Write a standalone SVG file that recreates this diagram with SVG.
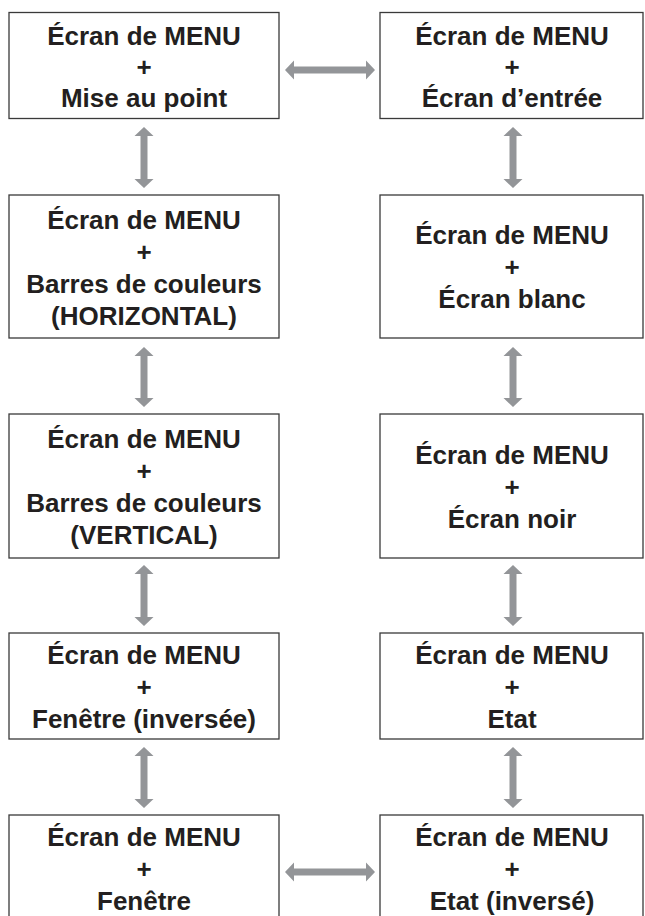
<svg xmlns="http://www.w3.org/2000/svg" width="645" height="916" viewBox="0 0 645 916">
<style>
.box{fill:#fff;stroke:#3a3a3a;stroke-width:1.3}
.t{font-family:"Liberation Sans",Arial,Helvetica,sans-serif;font-weight:bold;font-size:26px;fill:#231f20;text-anchor:middle}
.arr{fill:#939598}
</style>
<rect width="645" height="916" fill="#fff"/>
<g id="connectors">
<path class="arr" d="M285,70 L294,60.5 L294,66.5 L366,66.5 L366,60.5 L375,70 L366,79.5 L366,73.5 L294,73.5 L294,79.5 Z"/>
<path class="arr" d="M285,872 L294,862.5 L294,868.5 L366,868.5 L366,862.5 L375,872 L366,881.5 L366,875.5 L294,875.5 L294,881.5 Z"/>
<path class="arr" d="M144,127 L153.5,136 L147.5,136 L147.5,179 L153.5,179 L144,188 L134.5,179 L140.5,179 L140.5,136 L134.5,136 Z"/>
<path class="arr" d="M144,347 L153.5,356 L147.5,356 L147.5,398 L153.5,398 L144,407 L134.5,398 L140.5,398 L140.5,356 L134.5,356 Z"/>
<path class="arr" d="M144,565 L153.5,574 L147.5,574 L147.5,617 L153.5,617 L144,626 L134.5,617 L140.5,617 L140.5,574 L134.5,574 Z"/>
<path class="arr" d="M144,747 L153.5,756 L147.5,756 L147.5,799 L153.5,799 L144,808 L134.5,799 L140.5,799 L140.5,756 L134.5,756 Z"/>
<path class="arr" d="M513,127 L522.5,136 L516.5,136 L516.5,179 L522.5,179 L513,188 L503.5,179 L509.5,179 L509.5,136 L503.5,136 Z"/>
<path class="arr" d="M513,347 L522.5,356 L516.5,356 L516.5,398 L522.5,398 L513,407 L503.5,398 L509.5,398 L509.5,356 L503.5,356 Z"/>
<path class="arr" d="M513,565 L522.5,574 L516.5,574 L516.5,617 L522.5,617 L513,626 L503.5,617 L509.5,617 L509.5,574 L503.5,574 Z"/>
<path class="arr" d="M513,747 L522.5,756 L516.5,756 L516.5,799 L522.5,799 L513,808 L503.5,799 L509.5,799 L509.5,756 L503.5,756 Z"/>
</g>
<g id="n-mise-au-point">
<rect class="box" x="9" y="12.5" width="270" height="106"/>
<text class="t" x="144" y="44.5">Écran de MENU</text>
<text class="t" x="144" y="76">+</text>
<text class="t" x="144" y="107">Mise au point</text>
</g>
<g id="n-barres-horizontal">
<rect class="box" x="9" y="195" width="270" height="143"/>
<text class="t" x="144" y="229">Écran de MENU</text>
<text class="t" x="144" y="261">+</text>
<text class="t" x="144" y="293">Barres de couleurs</text>
<text class="t" x="144" y="325">(HORIZONTAL)</text>
</g>
<g id="n-barres-vertical">
<rect class="box" x="9" y="414" width="270" height="144"/>
<text class="t" x="144" y="448">Écran de MENU</text>
<text class="t" x="144" y="480">+</text>
<text class="t" x="144" y="512">Barres de couleurs</text>
<text class="t" x="144" y="544">(VERTICAL)</text>
</g>
<g id="n-fenetre-inversee">
<rect class="box" x="9" y="633" width="270" height="106"/>
<text class="t" x="144" y="664">Écran de MENU</text>
<text class="t" x="144" y="696">+</text>
<text class="t" x="144" y="728">Fenêtre (inversée)</text>
</g>
<g id="n-fenetre">
<rect class="box" x="9" y="815" width="270" height="120"/>
<text class="t" x="144" y="846">Écran de MENU</text>
<text class="t" x="144" y="878">+</text>
<text class="t" x="144" y="910">Fenêtre</text>
</g>
<g id="n-ecran-entree">
<rect class="box" x="380" y="12.5" width="263" height="106"/>
<text class="t" x="512" y="44.5">Écran de MENU</text>
<text class="t" x="512" y="76">+</text>
<text class="t" x="512" y="107">Écran d’entrée</text>
</g>
<g id="n-ecran-blanc">
<rect class="box" x="380" y="195" width="263" height="143"/>
<text class="t" x="512" y="244">Écran de MENU</text>
<text class="t" x="512" y="276">+</text>
<text class="t" x="512" y="308">Écran blanc</text>
</g>
<g id="n-ecran-noir">
<rect class="box" x="380" y="414" width="263" height="144"/>
<text class="t" x="512" y="464">Écran de MENU</text>
<text class="t" x="512" y="496">+</text>
<text class="t" x="512" y="528">Écran noir</text>
</g>
<g id="n-etat">
<rect class="box" x="380" y="633" width="263" height="106"/>
<text class="t" x="512" y="664">Écran de MENU</text>
<text class="t" x="512" y="696">+</text>
<text class="t" x="512" y="728">Etat</text>
</g>
<g id="n-etat-inverse">
<rect class="box" x="380" y="815" width="263" height="120"/>
<text class="t" x="512" y="846">Écran de MENU</text>
<text class="t" x="512" y="878">+</text>
<text class="t" x="512" y="910">Etat (inversé)</text>
</g>
</svg>
